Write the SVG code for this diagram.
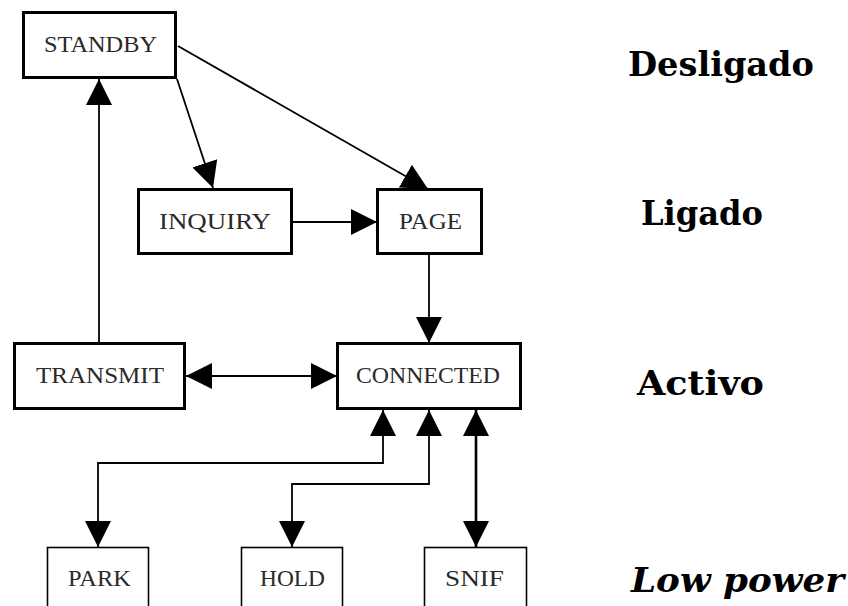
<svg xmlns="http://www.w3.org/2000/svg" width="848" height="606" viewBox="0 0 848 606">
  <style>
    .box { fill: #ffffff; stroke: #000000; stroke-width: 3; }
    .box-thin { fill: #ffffff; stroke: #000000; stroke-width: 1.6; }
    .lbl { font-family: "Liberation Serif", "Times New Roman", serif; font-size: 22.5px; fill: #2a2a2a; text-anchor: middle; }
    .wire { fill: none; stroke: #000000; stroke-width: 1.8; }
    .wire-bold { fill: none; stroke: #000000; stroke-width: 2.6; }
    .state { font-family: "DejaVu Serif", "Liberation Serif", serif; font-weight: bold; font-size: 33px; fill: #000000; }
    .state-it { font-style: italic; }
  </style>
  <defs>
    <marker id="arrow" viewBox="0 0 26 26" refX="26" refY="13" markerWidth="26" markerHeight="26" markerUnits="userSpaceOnUse" orient="auto-start-reverse">
      <path d="M0,0 L26,13 L0,26 Z" fill="#000000"/>
    </marker>
  </defs>

  <rect width="848" height="606" fill="#ffffff"/>

  <!-- connectors -->
  <g id="connectors">
    <path class="wire" d="M99,343 V79" marker-end="url(#arrow)"/>
    <path class="wire" d="M177,79 L213,188" marker-end="url(#arrow)"/>
    <path class="wire" d="M178,46 L428,189" marker-end="url(#arrow)"/>
    <path class="wire" d="M292,222 H377" marker-end="url(#arrow)"/>
    <path class="wire" d="M429,254 V343" marker-end="url(#arrow)"/>
    <path class="wire" d="M186,376 H337" marker-start="url(#arrow)" marker-end="url(#arrow)"/>
    <path class="wire" d="M383,410 V463 H98 V547" marker-start="url(#arrow)" marker-end="url(#arrow)"/>
    <path class="wire" d="M429,410 V484 H292 V547" marker-start="url(#arrow)" marker-end="url(#arrow)"/>
    <path class="wire-bold" d="M476,410 V547" marker-start="url(#arrow)" marker-end="url(#arrow)"/>
  </g>

  <!-- state nodes -->
  <g id="standby">
    <rect class="box" x="23.5" y="12.5" width="152" height="65"/>
    <text class="lbl" x="100.5" y="52" textLength="113" lengthAdjust="spacingAndGlyphs">STANDBY</text>
  </g>
  <g id="inquiry">
    <rect class="box" x="138.5" y="189.5" width="153" height="64"/>
    <text class="lbl" x="215" y="229" textLength="112" lengthAdjust="spacingAndGlyphs">INQUIRY</text>
  </g>
  <g id="page">
    <rect class="box" x="377.5" y="189.5" width="104" height="64"/>
    <text class="lbl" x="430.5" y="229" textLength="63" lengthAdjust="spacingAndGlyphs">PAGE</text>
  </g>
  <g id="transmit">
    <rect class="box" x="14.5" y="343.5" width="170" height="65"/>
    <text class="lbl" x="100" y="383" textLength="128" lengthAdjust="spacingAndGlyphs">TRANSMIT</text>
  </g>
  <g id="connected">
    <rect class="box" x="337.5" y="343.5" width="183" height="65"/>
    <text class="lbl" x="428" y="383" textLength="144" lengthAdjust="spacingAndGlyphs">CONNECTED</text>
  </g>
  <g id="park">
    <rect class="box-thin" x="47.5" y="547.5" width="101" height="80"/>
    <text class="lbl" x="99.5" y="586" textLength="63" lengthAdjust="spacingAndGlyphs">PARK</text>
  </g>
  <g id="hold">
    <rect class="box-thin" x="241.5" y="547.5" width="101" height="80"/>
    <text class="lbl" x="292.5" y="586" textLength="65" lengthAdjust="spacingAndGlyphs">HOLD</text>
  </g>
  <g id="snif">
    <rect class="box-thin" x="424.5" y="547.5" width="102" height="80"/>
    <text class="lbl" x="474.5" y="586" textLength="59" lengthAdjust="spacingAndGlyphs">SNIF</text>
  </g>

  <!-- power-mode labels -->
  <g id="modes">
    <text class="state" x="628" y="76" textLength="186" lengthAdjust="spacingAndGlyphs">Desligado</text>
    <text class="state" x="641" y="225" textLength="122" lengthAdjust="spacingAndGlyphs">Ligado</text>
    <text class="state" x="637" y="395" textLength="127" lengthAdjust="spacingAndGlyphs">Activo</text>
    <text class="state state-it" x="631" y="592" textLength="213" lengthAdjust="spacingAndGlyphs">Low power</text>
  </g>
</svg>
